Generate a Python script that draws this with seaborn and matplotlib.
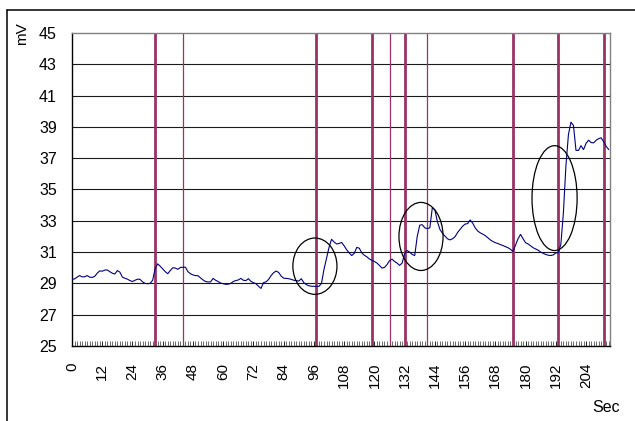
import numpy as np
import pandas as pd
import matplotlib
matplotlib.use("Agg")
import matplotlib.pyplot as plt
import seaborn as sns
from matplotlib.patches import Ellipse
from matplotlib.lines import Line2D
from matplotlib.ticker import MultipleLocator, FixedLocator

# ---------------- data ----------------
seconds = list(range(214))
millivolts = [
    29.28, 29.28, 29.40, 29.50, 29.42, 29.42, 29.50, 29.40, 29.38, 29.45,   # 0-9
    29.65, 29.80, 29.78, 29.85, 29.86, 29.75, 29.65, 29.60, 29.82, 29.72,   # 10-19
    29.40, 29.33, 29.27, 29.18, 29.12, 29.20, 29.27, 29.26, 29.10, 29.00,   # 20-29
    28.98, 29.00, 29.20, 29.95, 30.25, 30.10, 29.92, 29.75, 29.62, 29.82,   # 30-39
    30.00, 29.98, 29.90, 30.02, 30.03, 30.04, 29.75, 29.62, 29.54, 29.50,   # 40-49
    29.49, 29.35, 29.22, 29.12, 29.09, 29.10, 29.32, 29.20, 29.12, 29.02,   # 50-59
    28.98, 28.94, 28.95, 29.00, 29.12, 29.18, 29.22, 29.32, 29.20, 29.18,   # 60-69
    29.30, 29.13, 29.05, 28.98, 28.82, 28.68, 29.05, 29.10, 29.25, 29.50,   # 70-79
    29.68, 29.79, 29.70, 29.47, 29.33, 29.32, 29.30, 29.26, 29.20, 29.18,   # 80-89
    29.15, 29.30, 29.05, 28.92, 28.85, 28.82, 28.81, 28.81, 28.81, 29.00,   # 90-99
    29.90, 30.60, 31.30, 31.82, 31.65, 31.52, 31.55, 31.62, 31.40, 31.15,   # 100-109
    30.95, 30.78, 30.92, 31.30, 31.25, 30.95, 30.80, 30.70, 30.56, 30.48,   # 110-119
    30.40, 30.30, 30.15, 29.98, 30.02, 30.20, 30.45, 30.55, 30.40, 30.30,   # 120-129
    30.15, 30.30, 30.90, 31.10, 31.00, 30.85, 30.78, 32.00, 32.72, 32.75,   # 130-139
    32.55, 32.50, 32.55, 33.85, 33.70, 32.95, 32.45, 32.20, 32.02, 31.85,   # 140-149
    31.78, 31.85, 31.98, 32.25, 32.45, 32.65, 32.79, 32.82, 33.05, 32.85,   # 150-159
    32.55, 32.35, 32.23, 32.15, 32.05, 31.92, 31.78, 31.68, 31.60, 31.55,   # 160-169
    31.48, 31.42, 31.35, 31.28, 31.18, 31.04, 31.45, 31.85, 32.13, 31.85,   # 170-179
    31.60, 31.52, 31.40, 31.28, 31.20, 31.12, 31.00, 30.92, 30.85, 30.80,   # 180-189
    30.78, 30.82, 30.95, 30.96, 31.50, 33.50, 36.50, 38.50, 39.30, 39.10,   # 190-199
    37.50, 37.50, 37.80, 37.55, 37.95, 38.15, 38.00, 37.98, 38.15, 38.25,   # 200-209
    38.30, 38.05, 37.75, 37.55,                                             # 210-213
]
event_times = [33, 44, 97, 119, 126, 132, 141, 175, 193, 211]
event_bold = [True, False, True, True, False, True, False, True, True, True]
ellipse_centers = [(96.4, 30.1), (138.5, 32.0), (191.5, 34.45)]
ellipse_sizes = [(17.5, 3.6), (17.5, 4.35), (17.9, 6.7)]
y_ticks = list(range(25, 46, 2))
x_ticks = list(range(0, 205, 12))

# ---------------- style ----------------
sns.set_theme(style="white")
plt.rcParams['font.family'] = ['Liberation Sans', 'DejaVu Sans']

W, H = 635, 421
fig = plt.figure(figsize=(W / 100, H / 100), dpi=100)
fig.patch.set_facecolor("white")
ax = fig.add_axes([72 / W, 1 - 346 / H, 538 / W, 313 / H])
ax.set_facecolor("white")

df = pd.DataFrame({"sec": seconds, "mV": millivolts})

# horizontal grid
for yv in y_ticks[1:-1]:
    ax.axhline(yv, color="#1a1a1a", lw=0.8, zorder=1)

# event markers
for t, b in zip(event_times, event_bold):
    ax.axvline(t, color="#993366", lw=2.0 if b else 0.9, zorder=2)

sns.lineplot(data=df, x="sec", y="mV", ax=ax, color="#000080",
             linewidth=0.8, zorder=4)

for (cx, cy), (w, h) in zip(ellipse_centers, ellipse_sizes):
    ax.add_patch(Ellipse((cx, cy), w, h, fill=False, ec="black", lw=0.9, zorder=5))

ax.set_xlim(0, 213.5)
ax.set_ylim(25, 45)
ax.set_xlabel("")
ax.set_ylabel("")

ax.yaxis.set_major_locator(FixedLocator(y_ticks))
ax.set_yticklabels([str(v) for v in y_ticks])
ax.xaxis.set_major_locator(FixedLocator(x_ticks))
ax.set_xticklabels([str(v) for v in x_ticks], rotation=90)
ax.xaxis.set_minor_locator(MultipleLocator(1))

ax.tick_params(axis="y", which="both", length=0, pad=11, labelsize=11.5,
               labelcolor="black")
ax.tick_params(axis="x", which="major", direction="in", length=3.6, width=0.6,
               color="black", pad=12, labelsize=11, labelcolor="black",
               bottom=True)
ax.tick_params(axis="x", which="minor", direction="in", length=3.6, width=0.5,
               color="#333333", bottom=True)

for side in ["left", "bottom"]:
    ax.spines[side].set_color("black")
    ax.spines[side].set_linewidth(1.0)
for side in ["top", "right"]:
    ax.spines[side].set_color("#808080")
    ax.spines[side].set_linewidth(1.0)
    ax.spines[side].set_visible(True)

fig.text(22 / W, 1 - 34 / H, "mV", rotation=90, ha="center", va="center",
         fontsize=11, color="black")
fig.text(606 / W, 1 - 408 / H, "Sec", ha="center", va="center",
         fontsize=11.5, color="black")

# figure border (left and top visible)
fig.add_artist(Line2D([7 / W, 1], [1 - 10 / H, 1 - 10 / H],
                      transform=fig.transFigure, color="black", lw=1.1))
fig.add_artist(Line2D([7 / W, 7 / W], [0, 1 - 10 / H],
                      transform=fig.transFigure, color="black", lw=1.1))

fig.savefig("out.png", dpi=100)
